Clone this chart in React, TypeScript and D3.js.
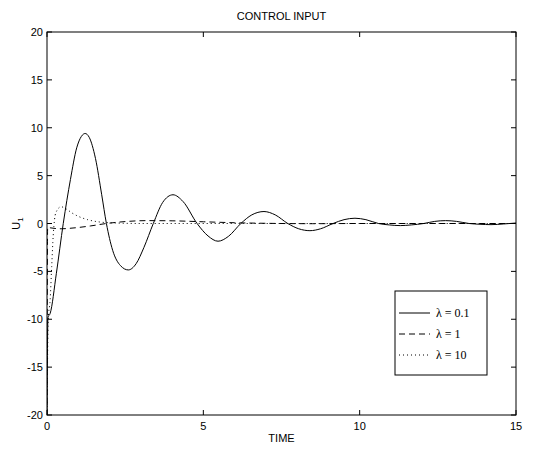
import React, { useEffect, useRef } from 'react';
import * as d3 from 'd3';

// lambda = 0.1 (solid)
const timeA = [0, 0.03, 0.1, 0.3, 0.52, 0.75, 0.95, 1.1, 1.22, 1.35, 1.55, 1.75, 1.9, 2.1, 2.35, 2.6, 2.85, 3.1, 3.4, 3.7, 4.03, 4.35, 4.8, 5.15, 5.47, 5.8, 6.2, 6.55, 6.94, 7.3, 7.7, 8.05, 8.41, 8.75, 9.15, 9.5, 9.85, 10.2, 10.6, 10.95, 11.3, 11.65, 12.05, 12.4, 12.75, 13.1, 13.5, 13.85, 14.2, 14.6, 15];
const uA = [-20, -9.8, -9.4, -5.2, 0, 4.6, 7.9, 9.1, 9.4, 9.0, 6.8, 3.0, 0, -2.8, -4.4, -4.85, -4.2, -2.5, 0, 2.2, 3.0, 2.3, 0, -1.3, -1.85, -1.35, 0, 0.9, 1.25, 0.9, 0, -0.55, -0.75, -0.55, 0, 0.4, 0.55, 0.4, 0, -0.15, -0.22, -0.15, 0, 0.22, 0.3, 0.22, 0, -0.08, -0.12, -0.05, 0.05];

// lambda = 1 (dashed)
const timeB = [0, 0.02, 0.1, 0.45, 0.9, 1.4, 1.9, 2.5, 3.2, 4.0, 5.0, 6.0, 7.0, 8.5, 10, 12, 15];
const uB = [-20, -0.4, -0.45, -0.55, -0.45, -0.25, 0, 0.2, 0.3, 0.28, 0.18, 0.08, 0.02, -0.02, 0, 0, 0];

// lambda = 10 (dotted)
const timeC = [0, 0.04, 0.1, 0.15, 0.2, 0.28, 0.45, 0.6, 0.8, 1.0, 1.3, 1.7, 2.2, 3, 4, 15];
const uC = [-20, -10, -8, -4.5, -1.2, 1.1, 1.75, 1.55, 1.1, 0.75, 0.4, 0.15, 0.05, 0, 0, 0];

const xTicks = [0, 5, 10, 15];
const yTicks = [-20, -15, -10, -5, 0, 5, 10, 15, 20];
const legendLabels = ['λ = 0.1', 'λ = 1', 'λ = 10'];
const dashes = ['none', '6,4', '1,3'];

const App = () => {
  const ref = useRef<SVGSVGElement>(null);

  useEffect(() => {
    const svg = d3.select(ref.current);
    svg.selectAll('*').remove();

    const margin = { top: 32, left: 47 };
    const w = 469;
    const h = 383;
    const x = d3.scaleLinear().domain([0, 15]).range([0, w]);
    const y = d3.scaleLinear().domain([-20, 20]).range([h, 0]);
    const font = 'Liberation Sans, Arial, sans-serif';

    const g = svg.append('g').attr('transform', `translate(${margin.left},${margin.top})`);

    g.append('defs').append('clipPath').attr('id', 'clip')
      .append('rect').attr('width', w).attr('height', h);

    // box
    g.append('rect').attr('width', w).attr('height', h)
      .attr('fill', 'none').attr('stroke', 'black').attr('stroke-width', 1);

    // ticks both sides, inward
    const tl = 5;
    xTicks.forEach(t => {
      g.append('line').attr('x1', x(t)).attr('x2', x(t)).attr('y1', h).attr('y2', h - tl).attr('stroke', 'black');
      g.append('line').attr('x1', x(t)).attr('x2', x(t)).attr('y1', 0).attr('y2', tl).attr('stroke', 'black');
      g.append('text').attr('x', x(t)).attr('y', h + 15).attr('text-anchor', 'middle')
        .attr('font-family', font).attr('font-size', 11).text(t);
    });
    yTicks.forEach(t => {
      g.append('line').attr('x1', 0).attr('x2', tl).attr('y1', y(t)).attr('y2', y(t)).attr('stroke', 'black');
      g.append('line').attr('x1', w).attr('x2', w - tl).attr('y1', y(t)).attr('y2', y(t)).attr('stroke', 'black');
      g.append('text').attr('x', -4).attr('y', y(t) + 4).attr('text-anchor', 'end')
        .attr('font-family', font).attr('font-size', 11).text(t);
    });

    const ln = d3.line<[number, number]>().x(d => x(d[0])).y(d => y(d[1])).curve(d3.curveMonotoneX);
    const series: [number, number][][] = [
      timeA.map((t, i) => [t, uA[i]]),
      timeB.map((t, i) => [t, uB[i]]),
      timeC.map((t, i) => [t, uC[i]]),
    ];
    const lines = g.append('g').attr('clip-path', 'url(#clip)');
    series.forEach((s, i) => {
      lines.append('path').attr('d', ln(s)).attr('fill', 'none').attr('stroke', 'black')
        .attr('stroke-width', 1).attr('stroke-dasharray', dashes[i]);
    });

    // legend
    const lg = svg.append('g').attr('transform', 'translate(395,291)');
    lg.append('rect').attr('width', 92).attr('height', 84).attr('fill', 'white').attr('stroke', 'black');
    legendLabels.forEach((lab, i) => {
      const yy = 22 + i * 21;
      lg.append('line').attr('x1', 4).attr('x2', 35).attr('y1', yy).attr('y2', yy)
        .attr('stroke', 'black').attr('stroke-dasharray', dashes[i]);
      lg.append('text').attr('x', 41).attr('y', yy + 4).attr('font-family', 'Liberation Serif, Times New Roman, serif')
        .attr('font-size', 12).text(lab);
    });

    // titles
    svg.append('text').attr('x', margin.left + w / 2).attr('y', 20).attr('text-anchor', 'middle')
      .attr('font-family', font).attr('font-size', 11).text('CONTROL INPUT');
    svg.append('text').attr('x', margin.left + w / 2).attr('y', 442).attr('text-anchor', 'middle')
      .attr('font-family', font).attr('font-size', 11).text('TIME');
    const yl = svg.append('text').attr('transform', `translate(20,${margin.top + h / 2}) rotate(-90)`)
      .attr('text-anchor', 'middle').attr('font-family', font).attr('font-size', 11);
    yl.append('tspan').text('U');
    yl.append('tspan').attr('font-size', 8).attr('dy', 3).text('1');
  }, []);

  return (
    <svg ref={ref} width={544} height={451} style={{ position: 'absolute', left: 0, top: 0, background: 'white' }} />
  );
};

export default App;
